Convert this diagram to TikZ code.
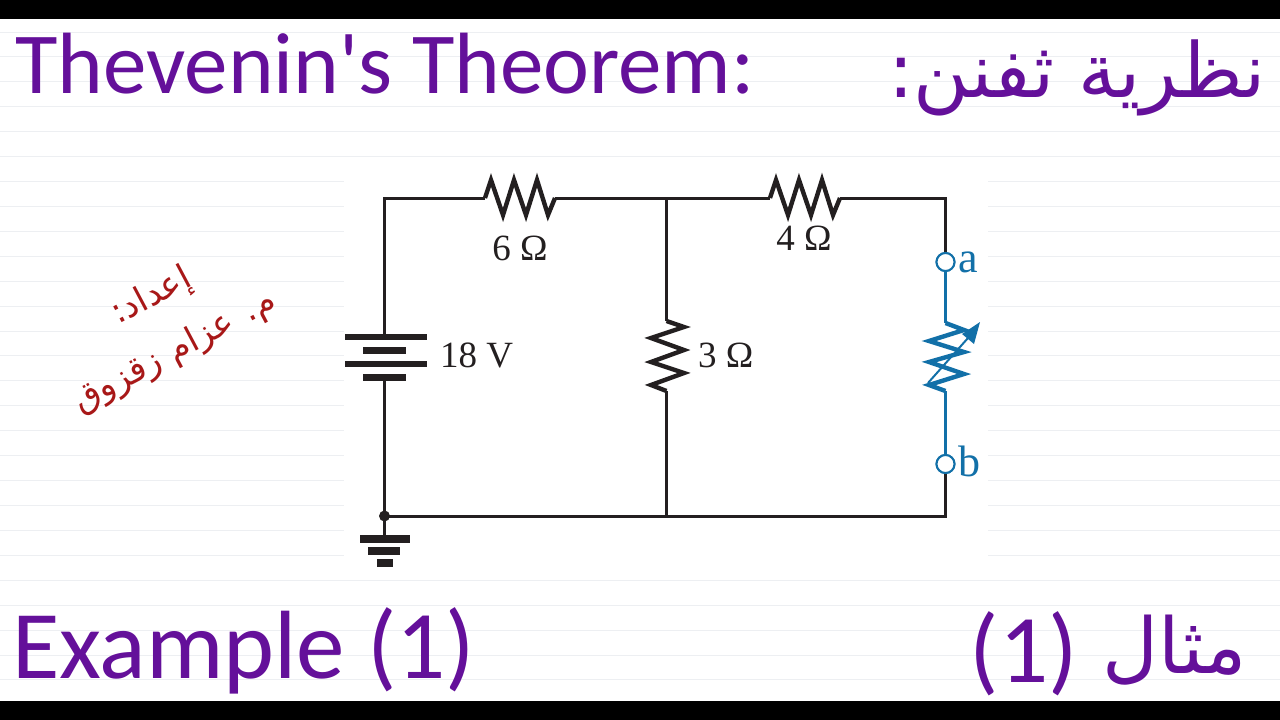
\documentclass[tikz,border=0pt]{standalone}
\usepackage{fontspec}
\setmainfont{Liberation Serif}
\newfontfamily\calib{Carlito}
\newfontfamily\arabicfont[Script=Arabic]{DejaVu Sans}
\TeXXeTstate=1
\definecolor{purp}{HTML}{64109A}
\definecolor{wire}{HTML}{231F20}
\definecolor{blu}{HTML}{1270A8}
\definecolor{redd}{HTML}{A81818}
\definecolor{rule}{HTML}{EDEFF2}
\tikzset{
 wireline/.style={draw=wire,line width=3pt,line join=miter},
 blueline/.style={draw=blu,line width=3pt,line join=miter},
 zig/.style={wireline,line width=4.4pt},
 plate/.style={draw=none,fill=wire},
 term/.style={circle,draw=blu,line width=2pt,fill=white,minimum size=18pt,inner sep=0pt},
 val/.style={text=wire,font=\fontsize{37}{37}\selectfont,inner sep=0pt},
 lett/.style={text=blu,font=\fontsize{44}{44}\selectfont,inner sep=0pt},
 head/.style={text=purp,inner sep=0pt},
 credit/.style={text=redd,rotate=28,font=\arabicfont\fontsize{34.5}{34.5}\selectfont,inner sep=0pt},
}
\begin{document}
\begin{tikzpicture}[x=1pt,y=-1pt]
\useasboundingbox (0,0) rectangle (1280,720);
\fill[white] (0,0) rectangle (1280,720);
\foreach \n in {0,...,26}
  \draw[rule,line width=1pt] (0,32+24.92*\n) -- (1280,32+24.92*\n);
\fill[white] (344,170) rectangle (988,570);
\fill[black] (0,0) rectangle (1280,19);
\fill[black] (0,701) rectangle (1280,720);
% titles
\node[head,anchor=base west,font=\calib\fontsize{87}{87}\selectfont] (t1) at (15,93) {Thevenin's Theorem:};
\node[head,anchor=base east,font=\arabicfont\fontsize{76}{76}\selectfont] (t2) at (1266,97) {\beginR نظرية ثفنن:\endR};
\node[head,anchor=base west,font=\calib\fontsize{97}{97}\selectfont] (t3) at (12,678) {Example (1)};
\node[head,anchor=base east,font=\calib\fontsize{97}{97}\selectfont] (t4a) at (1078,682) {(1)};
\node[head,anchor=base east,font=\arabicfont\fontsize{77}{77}\selectfont] (t4) at (1247,673) {\beginR مثال\endR};
% credit
\node[credit] (c1) at (152,297) {\beginR إعداد:\endR};
\node[credit] (c2) at (175,352) {\beginR م. عزام زقزوق\endR};
% named junctions
\coordinate (tl) at (384.5,198);
\coordinate (r1l) at (485,198);
\coordinate (r1r) at (555,198);
\coordinate (top) at (666.5,198);
\coordinate (r2l) at (770,198);
\coordinate (r2r) at (840,198);
\coordinate (tr) at (945.5,198);
\coordinate (batt) at (384.5,335);
\coordinate (battb) at (384.5,378);
\coordinate (r3t) at (666.5,321);
\coordinate (r3b) at (666.5,391);
\coordinate (bot) at (666.5,516);
\coordinate (br) at (945.5,516);
\coordinate (gnd) at (384.5,516);
\coordinate (gb) at (384.5,537);
\coordinate (r4t) at (945.5,323);
\coordinate (r4b) at (945.5,391);
\node[term] (a) at (945.5,262) {};
\node[term] (b) at (945.5,464) {};
% wires
\draw[wireline] (r1l) -- (tl) -- (batt);
\draw[wireline] (r1r) -- (top) -- (r2l);
\draw[wireline] (r2r) -- (tr) -- (a.north);
\draw[wireline] (top) -- (r3t);
\draw[wireline] (r3b) -- (bot);
\draw[wireline] (battb) -- (gnd) -- (bot) -- (br) -- (b.south);
\draw[wireline] (gnd) -- (gb);
\fill[wire] (gnd) circle (5.5pt);
% horizontal resistors
\draw[zig] (r1l) -- ++(6,-18) -- ++(12,35) -- ++(11,-35) -- ++(12,35) -- ++(11,-35) -- ++(11,35) -- (r1r);
\draw[zig] (r2l) -- ++(6,-18) -- ++(12,35) -- ++(11,-35) -- ++(12,35) -- ++(11,-35) -- ++(11,35) -- (r2r);
% vertical resistor
\draw[zig] (r3t) -- (684,327) -- (651,338) -- (684,350) -- (651,362) -- (684,373) -- (651,385) -- (r3b);
% battery
\path[plate] (345,334) rectangle (427,340);
\path[plate] (363,347) rectangle (406,354);
\path[plate] (345,361) rectangle (427,367);
\path[plate] (363,374) rectangle (406,381);
% ground
\path[plate] (360,535) rectangle (410,543);
\path[plate] (368,547) rectangle (400,555);
\path[plate] (377,559) rectangle (393,567);
% variable resistor
\draw[blueline] (a) -- (r4t);
\draw[blueline] (b) -- (r4b);
\draw[blueline,line width=4.4pt] (r4t) -- (964,330) -- (929,341) -- (964,352) -- (929,362) -- (964,374) -- (929,385) -- (r4b);
\coordinate (ars) at (928,383);
\coordinate (are) at (980,322);
\draw[blu,line width=2pt] (ars) -- (968,338);
\fill[blu] (are) -- (962,334) -- (974,344) -- cycle;
\node[term] at (a) {};
\node[term] at (b) {};
% labels
\node[val,anchor=base] (l6) at (520,260) {6 Ω};
\node[val,anchor=base] (l4) at (804,250) {4 Ω};
\node[val,anchor=base west] (l18) at (440,367) {18 V};
\node[val,anchor=base west] (l3) at (698,367) {3 Ω};
\node[lett,anchor=base west] (la) at (958,272) {a};
\node[lett,anchor=base west] (lb) at (958,476) {b};
\end{tikzpicture}
\end{document}
